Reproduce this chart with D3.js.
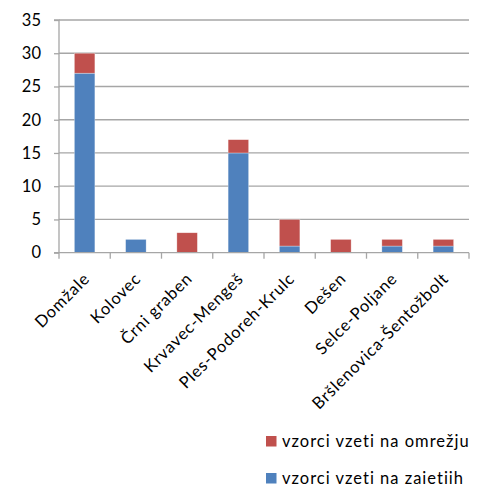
<!DOCTYPE html>
<html><head><meta charset="utf-8">
<script src="https://cdn.jsdelivr.net/npm/d3@7"></script>
<style>body{margin:0;background:#fff}svg{display:block}text{font-family:Lato,sans-serif;fill:#000}</style>
</head><body>
<svg id="c" width="483" height="484"></svg>
<script>
const categories = ["Domžale","Kolovec","Črni graben","Krvavec-Mengeš","Ples-Podoreh-Krulc","Dešen","Selce-Poljane","Bršlenovica-Šentožbolt"];
const zajetih = [27,2,0,15,1,0,1,1];
const omrezju = [3,0,3,2,4,2,1,1];
const seriesNames = ["vzorci vzeti na zajetjih","vzorci vzeti na omrežju"];
const yTicks = [0,5,10,15,20,25,30,35];

const svg = d3.select("#c");
const L=59, R=469, T=20, B=252.7;
const x = d3.scaleBand().domain(categories).range([L,R]).paddingInner(0.6).paddingOuter(0.3);
const y = d3.scaleLinear().domain([0,35]).range([B,T]);
const colors = ["#4F81BD","#C0504D"];
const FF = "Lato,sans-serif";

svg.append("g").selectAll("line").data(yTicks.filter(d=>d>0)).join("line")
  .attr("x1",L).attr("x2",R).attr("y1",d=>y(d)).attr("y2",d=>y(d))
  .attr("stroke","#A6A6A6").attr("stroke-width",1.3);

const data = categories.map((c,i)=>({c, v:[zajetih[i],omrezju[i]]}));
const stack = d3.stack().keys([0,1]).value((d,k)=>d.v[k])(data);
svg.append("g").selectAll("g").data(stack).join("g").attr("fill",(d,i)=>colors[i])
  .selectAll("rect").data(d=>d.filter(s=>s[1]-s[0]>0)).join("rect")
  .attr("x",d=>x(d.data.c)).attr("width",x.bandwidth())
  .attr("y",d=>y(d[1])).attr("height",d=>y(d[0])-y(d[1]))
  .attr("stroke","#fff").attr("stroke-opacity",0.5).attr("stroke-width",0.6);

const ya = svg.append("g").attr("transform",`translate(${L},0)`).call(d3.axisLeft(y).tickValues(yTicks).tickSize(5).tickPadding(5));
ya.select(".domain").attr("stroke","#A6A6A6").attr("stroke-width",1.3).attr("d",`M-5,${T}H0V${B}`);
ya.selectAll(".tick line").attr("stroke","#A6A6A6").attr("stroke-width",1.3);
ya.selectAll(".tick text").attr("font-size",16.5).attr("fill","#000").style("font-family",FF).attr("x",-18);

const step = (R-L)/categories.length;
const xa = svg.append("g");
xa.append("line").attr("x1",L-5).attr("x2",R).attr("y1",B).attr("y2",B).attr("stroke","#A6A6A6").attr("stroke-width",1.3);
xa.selectAll("line.t").data(d3.range(categories.length+1)).join("line").attr("class","t")
  .attr("x1",i=>L+i*step).attr("x2",i=>L+i*step).attr("y1",B).attr("y2",B+6)
  .attr("stroke","#A6A6A6").attr("stroke-width",1.3);
xa.selectAll("text").data(categories).join("text")
  .attr("transform",d=>`translate(${x(d)+x.bandwidth()/2+2},${B+23}) rotate(-45)`)
  .attr("text-anchor","end").attr("dy","0.35em").attr("font-size",16.5)
  .attr("letter-spacing","0.8px").text(d=>d);

const leg = [{n:seriesNames[1],c:colors[1],y:436},{n:seriesNames[0],c:colors[0],y:473}];
const lg = svg.append("g").selectAll("g").data(leg).join("g").attr("transform",d=>`translate(266,${d.y})`);
lg.append("rect").attr("width",10.5).attr("height",10.5).attr("fill",d=>d.c);
lg.append("text").attr("x",16).attr("y",11).attr("font-size",16.5).attr("letter-spacing","1px").text(d=>d.n);
</script>
</body></html>
